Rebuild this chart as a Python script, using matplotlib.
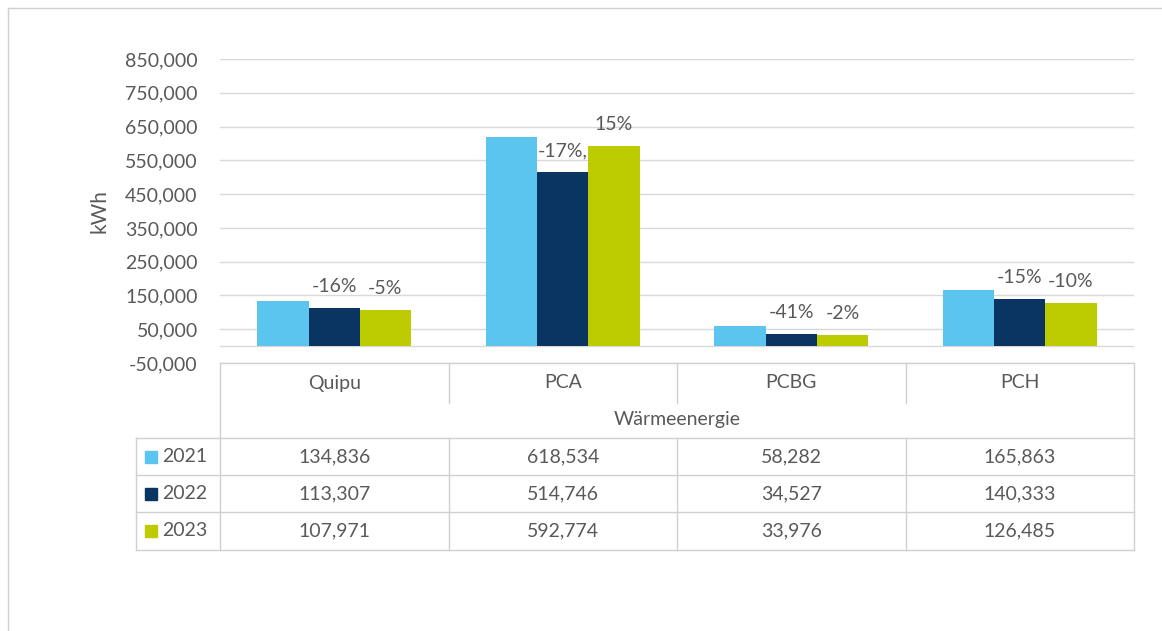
import matplotlib
matplotlib.use("Agg")
import matplotlib.pyplot as plt
import numpy as np
from matplotlib.patches import Rectangle
from matplotlib.ticker import FuncFormatter

# ------------------------------------------------------------
# Data
# ------------------------------------------------------------
categories = ["Quipu", "PCA", "PCBG", "PCH"]
years = ["2021", "2022", "2023"]
v2021 = [134836, 618534, 58282, 165863]
v2022 = [113307, 514746, 34527, 140333]
v2023 = [107971, 592774, 33976, 126485]
lbl2022 = ["-16%", "-17%,", "-41%", "-15%"]
lbl2023 = ["-5%", "15%", "-2%", "-10%"]
group_title = "Wärmeenergie"
y_ticks = [-50000, 50000, 150000, 250000, 350000, 450000,
           550000, 650000, 750000, 850000]

colors = ["#5BC5F0", "#0A3462", "#BCCC00"]
txt = "#595959"
grid_c = "#D9D9D9"
series = [v2021, v2022, v2023]
labels = [None, lbl2022, lbl2023]
fs = 14

plt.rcParams["font.family"] = ["Lato", "DejaVu Sans"]

W, H = 1162, 631
fig = plt.figure(figsize=(W / 100, H / 100), dpi=100)

# pixel layout of plot area
x0, x1 = 220, 1134
yt, yb = 59, 363
ax = fig.add_axes([x0 / W, 1 - yb / H, (x1 - x0) / W, (yb - yt) / H])

n = len(categories)
x = np.arange(n)
bw = 0.224
for i, (vals, c) in enumerate(zip(series, colors)):
    pos = x + (i - 1) * bw
    ax.bar(pos, vals, width=bw, color=c, zorder=3)
    if labels[i] is not None:
        for p, v, s in zip(pos, vals, labels[i]):
            ax.annotate(s, (p, v), xytext=(0, 15.5), textcoords="offset points",
                        ha="center", va="center", fontsize=fs, color=txt)

ax.set_xlim(-0.5, n - 0.5)
ax.set_ylim(-50000, 850000)
ax.set_yticks(y_ticks)
ax.yaxis.set_major_formatter(FuncFormatter(lambda v, _: f"{v:,.0f}"))
ax.tick_params(axis="y", length=0, pad=16, labelsize=fs, labelcolor=txt)
ax.set_xticks([])
ax.grid(axis="y", color=grid_c, lw=1, zorder=0)
ax.axhline(0, color=grid_c, lw=1, zorder=2)
for s in ax.spines.values():
    s.set_visible(False)
ax.set_ylabel("kWh", fontsize=15, color=txt, labelpad=11)

# ------------------------------------------------------------
# Data table below the chart (pixel overlay)
# ------------------------------------------------------------
ov = fig.add_axes([0, 0, 1, 1], zorder=5)
ov.set_xlim(0, W)
ov.set_ylim(H, 0)
ov.axis("off")
ov.patch.set_alpha(0)

lc = "#D0D0D0"
col_edges = np.linspace(x0, x1, n + 1)
row_y = [363, 403, 438, 475, 512, 550]
leg_x = 136

# outer frame of the whole chart
ov.plot([7.5, W], [7.5, 7.5], color=lc, lw=1)
ov.plot([7.5, 7.5], [7.5, H], color=lc, lw=1)

ov.plot([x0, x1], [row_y[0], row_y[0]], color=lc, lw=1)
for yy in row_y[2:]:
    ov.plot([leg_x, x1], [yy, yy], color=lc, lw=1)
ov.plot([x0, x0], [row_y[0], row_y[-1]], color=lc, lw=1)
ov.plot([x1, x1], [row_y[0], row_y[-1]], color=lc, lw=1)
ov.plot([leg_x, leg_x], [row_y[2], row_y[-1]], color=lc, lw=1)
for xe in col_edges[1:-1]:
    ov.plot([xe, xe], [row_y[0], row_y[1]], color=lc, lw=1)
    ov.plot([xe, xe], [row_y[2], row_y[-1]], color=lc, lw=1)

centers = (col_edges[:-1] + col_edges[1:]) / 2
for cx, name in zip(centers, categories):
    ov.text(cx, 383, name, ha="center", va="center", fontsize=fs, color=txt)
ov.text((x0 + x1) / 2, 420, group_title, ha="center", va="center",
        fontsize=fs, color=txt)

for r, (yr, vals, c) in enumerate(zip(years, series, colors)):
    yc = (row_y[2 + r] + row_y[3 + r]) / 2
    ov.add_patch(Rectangle((145, yc - 6), 12, 12, color=c))
    ov.text(162, yc, yr, ha="left", va="center", fontsize=fs, color=txt)
    for cx, v in zip(centers, vals):
        ov.text(cx, yc, f"{v:,}", ha="center", va="center", fontsize=fs, color=txt)

fig.savefig("out.png", dpi=100)
